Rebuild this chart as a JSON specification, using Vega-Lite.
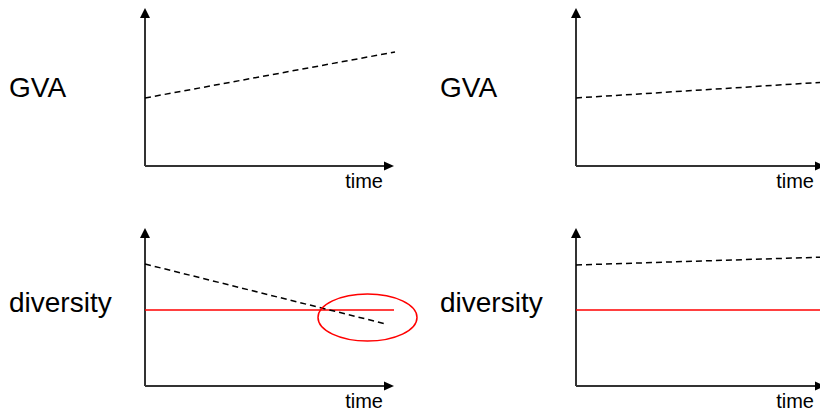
{
  "$schema": "https://vega.github.io/schema/vega-lite/v6.json",
  "width": 820,
  "height": 417,
  "autosize": {"type": "none"},
  "padding": 0,
  "background": "white",
  "config": {"view": {"stroke": null}},
  "datasets": {
    "axes": [
      {"panel": "GVA-left", "x": 145, "y": 166, "x2": 145, "y2": 16},
      {"panel": "GVA-left", "x": 145, "y": 166, "x2": 386, "y2": 166},
      {"panel": "GVA-right", "x": 576, "y": 166, "x2": 576, "y2": 16},
      {"panel": "GVA-right", "x": 576, "y": 166, "x2": 820, "y2": 166},
      {"panel": "diversity-left", "x": 145, "y": 386, "x2": 145, "y2": 236},
      {"panel": "diversity-left", "x": 145, "y": 386, "x2": 386, "y2": 386},
      {"panel": "diversity-right", "x": 576, "y": 386, "x2": 576, "y2": 236},
      {"panel": "diversity-right", "x": 576, "y": 386, "x2": 820, "y2": 386}
    ],
    "arrows": [
      {"dir": "up", "x": 145, "y": 13},
      {"dir": "up", "x": 576, "y": 13},
      {"dir": "up", "x": 145, "y": 233},
      {"dir": "up", "x": 576, "y": 233},
      {"dir": "right", "x": 389, "y": 166},
      {"dir": "right", "x": 820, "y": 166},
      {"dir": "right", "x": 389, "y": 386},
      {"dir": "right", "x": 820, "y": 386}
    ],
    "trends": [
      {"id": "GVA-left", "kind": "trend", "t": 145, "v": 98},
      {"id": "GVA-left", "kind": "trend", "t": 395, "v": 52},
      {"id": "GVA-right", "kind": "trend", "t": 576, "v": 98},
      {"id": "GVA-right", "kind": "trend", "t": 826, "v": 82},
      {"id": "diversity-left", "kind": "trend", "t": 145, "v": 264},
      {"id": "diversity-left", "kind": "trend", "t": 386, "v": 324},
      {"id": "diversity-right", "kind": "trend", "t": 576, "v": 265},
      {"id": "diversity-right", "kind": "trend", "t": 826, "v": 257},
      {"id": "threshold-left", "kind": "threshold", "t": 145, "v": 310},
      {"id": "threshold-left", "kind": "threshold", "t": 394, "v": 310},
      {"id": "threshold-right", "kind": "threshold", "t": 576, "v": 310},
      {"id": "threshold-right", "kind": "threshold", "t": 826, "v": 310}
    ],
    "labels": [
      {"text": "GVA", "x": 9, "y": 97, "role": "title"},
      {"text": "GVA", "x": 440, "y": 97, "role": "title"},
      {"text": "diversity", "x": 9, "y": 312, "role": "title"},
      {"text": "diversity", "x": 440, "y": 312, "role": "title"},
      {"text": "time", "x": 383, "y": 188, "role": "axis"},
      {"text": "time", "x": 814, "y": 188, "role": "axis"},
      {"text": "time", "x": 383, "y": 408, "role": "axis"},
      {"text": "time", "x": 814, "y": 408, "role": "axis"}
    ],
    "highlight": [
      {"x": 367.5, "y": 317.5}
    ]
  },
  "encoding": {
    "x": {"type": "quantitative", "scale": {"domain": [0, 820], "nice": false, "zero": false}, "axis": null},
    "y": {"type": "quantitative", "scale": {"domain": [0, 417], "nice": false, "zero": false, "reverse": true}, "axis": null}
  },
  "layer": [
    {
      "data": {"name": "axes"},
      "mark": {"type": "rule", "color": "#333333", "strokeWidth": 2},
      "encoding": {
        "x": {"field": "x", "type": "quantitative"},
        "y": {"field": "y", "type": "quantitative"},
        "x2": {"field": "x2"},
        "y2": {"field": "y2"}
      }
    },
    {
      "data": {"name": "arrows"},
      "transform": [{"filter": "datum.dir === 'up'"}],
      "mark": {"type": "point", "shape": "M0,-1L1,1L-1,1Z", "filled": true, "color": "#000000", "opacity": 1, "size": 100},
      "encoding": {
        "x": {"field": "x", "type": "quantitative"},
        "y": {"field": "y", "type": "quantitative"}
      }
    },
    {
      "data": {"name": "arrows"},
      "transform": [{"filter": "datum.dir === 'right'"}],
      "mark": {"type": "point", "shape": "M1,0L-1,-0.9L-1,0.9Z", "filled": true, "color": "#000000", "opacity": 1, "size": 100},
      "encoding": {
        "x": {"field": "x", "type": "quantitative"},
        "y": {"field": "y", "type": "quantitative"}
      }
    },
    {
      "data": {"name": "trends"},
      "transform": [{"filter": "datum.kind === 'threshold'"}],
      "mark": {"type": "line", "color": "#ff0000", "strokeWidth": 1.5, "clip": true},
      "encoding": {
        "x": {"field": "t", "type": "quantitative"},
        "y": {"field": "v", "type": "quantitative"},
        "detail": {"field": "id"}
      }
    },
    {
      "data": {"name": "trends"},
      "transform": [{"filter": "datum.kind === 'trend'"}],
      "mark": {"type": "line", "color": "#000000", "strokeWidth": 1.5, "strokeDash": [6, 4], "clip": true},
      "encoding": {
        "x": {"field": "t", "type": "quantitative"},
        "y": {"field": "v", "type": "quantitative"},
        "detail": {"field": "id"}
      }
    },
    {
      "data": {"name": "highlight"},
      "mark": {"type": "point", "shape": "M1,0A1,0.475,0,1,1,-1,0A1,0.475,0,1,1,1,0Z", "filled": false, "stroke": "#ff0000", "strokeWidth": 1.5, "opacity": 1, "size": 9801},
      "encoding": {
        "x": {"field": "x", "type": "quantitative"},
        "y": {"field": "y", "type": "quantitative"}
      }
    },
    {
      "data": {"name": "labels"},
      "transform": [{"filter": "datum.role === 'title'"}],
      "mark": {"type": "text", "font": "Liberation Sans", "fontSize": 28, "align": "left", "baseline": "alphabetic", "color": "#000000"},
      "encoding": {
        "x": {"field": "x", "type": "quantitative"},
        "y": {"field": "y", "type": "quantitative"},
        "text": {"field": "text"}
      }
    },
    {
      "data": {"name": "labels"},
      "transform": [{"filter": "datum.role === 'axis'"}],
      "mark": {"type": "text", "font": "Liberation Sans", "fontSize": 20, "align": "right", "baseline": "alphabetic", "color": "#000000"},
      "encoding": {
        "x": {"field": "x", "type": "quantitative"},
        "y": {"field": "y", "type": "quantitative"},
        "text": {"field": "text"}
      }
    }
  ]
}
